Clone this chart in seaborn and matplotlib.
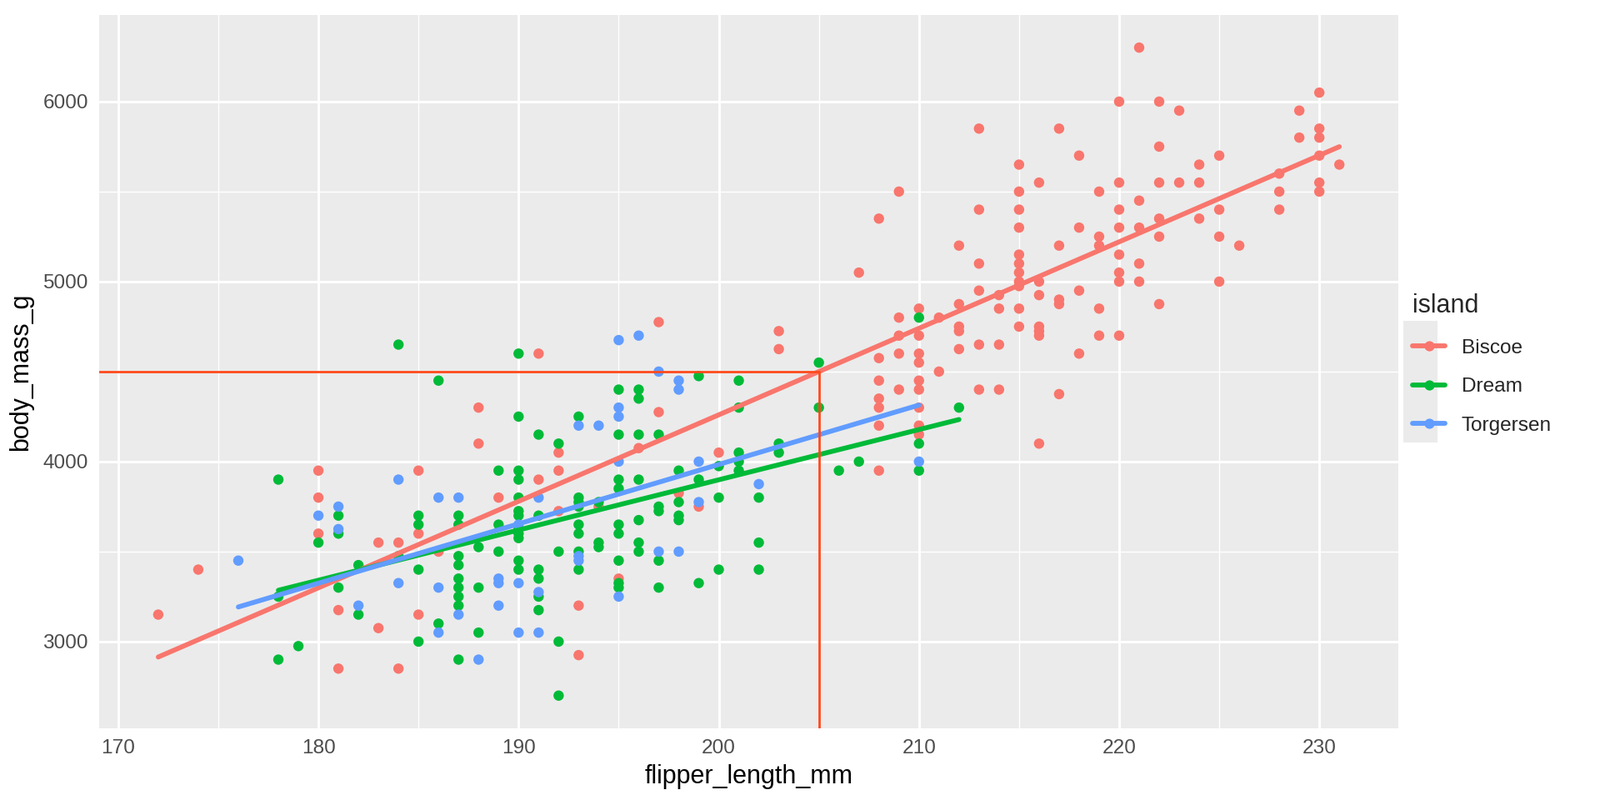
import matplotlib
matplotlib.use("Agg")
import matplotlib.pyplot as plt
from matplotlib.lines import Line2D
from matplotlib.patches import Rectangle
import numpy as np
import pandas as pd
import seaborn as sns

# body mass (g) per flipper length (mm)
biscoe = {
    172: [3150], 174: [3400], 180: [3950, 3800, 3600], 181: [3175, 2850],
    183: [3550, 3075], 184: [3550, 2850], 185: [3950, 3600, 3150], 186: [3500],
    188: [4300, 4100], 189: [3800], 191: [4600, 3900], 192: [4050, 3950, 3725],
    193: [3200, 2925], 194: [3750], 195: [3350], 196: [4075], 197: [4775, 4275],
    198: [3825], 199: [3750], 200: [4050], 203: [4725, 4625], 207: [5050],
    208: [5350, 4575, 4450, 4350, 4300, 4200, 3950],
    209: [5500, 4800, 4700, 4600, 4400],
    210: [4850, 4700, 4600, 4550, 4450, 4400, 4300, 4200, 4150],
    211: [4800, 4500], 212: [5200, 4875, 4750, 4725, 4625],
    213: [5850, 5400, 5100, 4950, 4650, 4400], 214: [4925, 4850, 4650, 4400],
    215: [5650, 5500, 5400, 5300, 5150, 5100, 5050, 5000, 4975, 4850, 4750],
    216: [5550, 5000, 4925, 4750, 4725, 4700, 4100],
    217: [5850, 5200, 4900, 4875, 4375], 218: [5700, 5300, 4950, 4600],
    219: [5500, 5250, 5200, 4850, 4700],
    220: [6000, 5550, 5400, 5300, 5150, 5050, 5000, 4700],
    221: [6300, 5450, 5300, 5100, 5000], 222: [6000, 5750, 5550, 5350, 5250, 4875],
    223: [5950, 5550], 224: [5650, 5550, 5350], 225: [5700, 5400, 5250, 5000],
    226: [5200], 228: [5600, 5500, 5400], 229: [5950, 5800],
    230: [6050, 5850, 5800, 5700, 5550, 5500], 231: [5650],
}
dream = {
    178: [3900, 3250, 2900], 179: [2975], 180: [3550], 181: [3700, 3600, 3300],
    182: [3425, 3150], 184: [4650, 3475], 185: [3700, 3650, 3400, 3000],
    186: [4450, 3100], 187: [3700, 3650, 3475, 3425, 3350, 3300, 3250, 3200, 2900],
    188: [3525, 3300, 3050], 189: [3950, 3650, 3500],
    190: [4600, 4250, 3950, 3900, 3800, 3725, 3700, 3625, 3600, 3575, 3450, 3400],
    191: [4150, 3700, 3400, 3350, 3250, 3175], 192: [4100, 3500, 3000, 2700],
    193: [4250, 3800, 3775, 3750, 3650, 3600, 3500, 3400], 194: [3775, 3550, 3525],
    195: [4400, 4150, 3900, 3850, 3650, 3600, 3450, 3325, 3300],
    196: [4400, 4350, 4150, 3900, 3675, 3550, 3500],
    197: [4150, 3750, 3725, 3450, 3300], 198: [3950, 3775, 3700, 3675],
    199: [4475, 3900, 3325], 200: [3975, 3800, 3400],
    201: [4450, 4300, 4050, 4000, 3950], 202: [3800, 3550, 3400],
    203: [4100, 4050], 205: [4550, 4300], 206: [3950], 207: [4000],
    210: [4800, 4100, 3950], 212: [4300],
}
torgersen = {
    176: [3450], 180: [3700], 181: [3750, 3625], 182: [3200], 184: [3900, 3325],
    186: [3800, 3300, 3050], 187: [3800, 3150], 188: [2900],
    189: [3350, 3325, 3200], 190: [3650, 3325, 3050], 191: [3800, 3275, 3050],
    193: [4200, 3475, 3450], 194: [4200], 195: [4675, 4300, 4250, 4000, 3250],
    196: [4700], 197: [4500, 3500], 198: [4450, 4400, 3500], 199: [4000, 3775],
    202: [3875], 210: [4000],
}
islands = ["Biscoe", "Dream", "Torgersen"]
colors = ["#F8766D", "#00BA38", "#619CFF"]
flipper_ref = 205

rows = []
for name, d in zip(islands, [biscoe, dream, torgersen]):
    for fl, masses in d.items():
        for m in masses:
            rows.append((fl, m, name))
df = pd.DataFrame(rows, columns=["flipper_length_mm", "body_mass_g", "island"])

sns.set_theme(style="darkgrid")
plt.rcParams["font.family"] = ["Liberation Sans", "DejaVu Sans"]

fig = plt.figure(figsize=(9.6, 4.8), dpi=200)
ax = fig.add_axes([0.062, 0.09, 0.812, 0.891])
ax.set_facecolor("#EBEBEB")

sns.scatterplot(data=df, x="flipper_length_mm", y="body_mass_g", hue="island",
                hue_order=islands, palette=colors, s=20, linewidth=0,
                legend=False, ax=ax, zorder=3)
for name, c in zip(islands, colors):
    sub = df[df.island == name]
    sns.regplot(data=sub, x="flipper_length_mm", y="body_mass_g", scatter=False,
                ci=None, color=c, line_kws={"lw": 2.1, "zorder": 4}, ax=ax)

xlo, xhi = 169.05, 233.95
ylo, yhi = 2520, 6480
b = df[df.island == "Biscoe"]
slope, inter = np.polyfit(b.flipper_length_mm, b.body_mass_g, 1)
mass_ref = slope * flipper_ref + inter
ax.plot([flipper_ref, flipper_ref], [ylo, mass_ref], color="#FF4A1C", lw=1.0, zorder=5)
ax.plot([xlo, flipper_ref], [mass_ref, mass_ref], color="#FF4A1C", lw=1.0, zorder=5)

ax.set_xlim(xlo, xhi)
ax.set_ylim(ylo, yhi)
ax.set_xticks([170, 180, 190, 200, 210, 220, 230])
ax.set_yticks([3000, 4000, 5000, 6000])
ax.set_xticks(np.arange(175, 231, 10), minor=True)
ax.set_yticks([3500, 4500, 5500], minor=True)
ax.grid(which="major", color="white", lw=1.07)
ax.grid(which="minor", color="white", lw=0.53)
for sp in ax.spines.values():
    sp.set_visible(False)
ax.tick_params(which="major", length=2.75, width=1.07, color="#333333",
               labelsize=8.8, labelcolor="#4D4D4D", pad=2)
ax.tick_params(which="minor", length=0)
ax.set_xlabel("flipper_length_mm", fontsize=11, color="black", labelpad=3)
ax.set_ylabel("body_mass_g", fontsize=11, color="black", labelpad=4)

handles = [Line2D([0], [0], color=c, lw=2.1, marker="o", markersize=4.4,
                  markeredgewidth=0) for c in colors]
fig.patches.append(Rectangle((0.877, 0.447), 0.0215, 0.152, transform=fig.transFigure,
                             facecolor="#EBEBEB", edgecolor="none", zorder=0))
leg = fig.legend(handles, islands, loc="upper left", bbox_to_anchor=(0.8715, 0.656),
                 frameon=False, title="island", alignment="left", fontsize=8.8,
                 title_fontsize=11, handlelength=1.6, labelspacing=1.0,
                 handletextpad=0.8)

fig.savefig("out.png", dpi=200)
